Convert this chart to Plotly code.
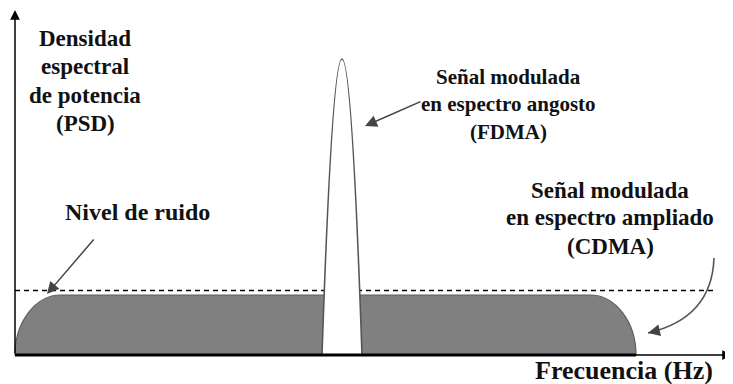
import plotly.graph_objects as go

# Diagram units: origin at the corner of the axes, y grows upward
axis_ends = [717, 345]                 # x-axis tip, y-axis tip
band_edges = [0, 621]                  # spread spectrum band (CDMA)
band_level = 60                        # PSD plateau of the spread signal
band_corner = 46                       # rounding of the band edges
noise_level = 64.5                     # noise floor (dashed)
noise_end = 698
peak_center = 327                      # narrow band signal (FDMA)
peak_halfwidth = 20
peak_height = 296

psd_label = ["Densidad", "espectral", "de potencia", "(PSD)"]
psd_label_y = [317, 289, 260, 232]
fdma_label = ["Señal modulada", "en espectro angosto", "(FDMA)"]
fdma_label_y = [278, 251, 223]
cdma_label = ["Señal modulada", "en espectro ampliado", "(CDMA)"]
cdma_label_y = [165, 137.5, 109]

SERIF = "Liberation Serif"
FONT = dict(family=SERIF, size=23, color="#111")

fig = go.Figure()
# invisible trace so the axes exist
fig.add_trace(go.Scatter(x=[0], y=[0], mode="markers", marker=dict(opacity=0),
                         hoverinfo="skip", showlegend=False))

k = 0.5523
x0, x1 = band_edges
r, h = band_corner, band_level
band_path = (f"M {x0},0 C {x0},{k*h} {x0 + r - k*r},{h} {x0 + r},{h} "
             f"L {x1 - r},{h} C {x1 - r + k*r},{h} {x1},{k*h} {x1},0 Z")
pc, pw, ph = peak_center, peak_halfwidth, peak_height
peak_path = f"M {pc - pw},0 Q {pc},{2*ph} {pc + pw},0 Z"

shapes = [
    dict(type="line", x0=0, x1=noise_end, y0=noise_level, y1=noise_level,
         line=dict(color="black", width=1.3, dash="5px,4px")),
    dict(type="path", path=band_path, fillcolor="#808080",
         line=dict(color="#5e5e5e", width=1.2)),
    dict(type="path", path=peak_path, fillcolor="white",
         line=dict(color="#555", width=1.6)),
    dict(type="line", x0=x0, x1=x1, y0=0, y1=0, line=dict(color="black", width=3)),
    # curved arrow body towards the spread spectrum band
    dict(type="path", path="M 699,97 Q 697,37 633,22",
         line=dict(color="#555", width=1.6)),
]
for s in shapes:
    s.update(xref="x", yref="y")

ann = []
# axes
for tip in [(axis_ends[0], 0), (0, axis_ends[1])]:
    ann.append(dict(x=tip[0], y=tip[1], ax=0, ay=0, axref="x", ayref="y",
                    showarrow=True, arrowhead=2, arrowsize=1.3, arrowwidth=1.5,
                    arrowcolor="black", text=""))
# pointer arrows
for tip, tail in [((32, 61), (80, 117)), ((350, 229), (407, 254)),
                  ((633, 22), (645, 24.8))]:
    ann.append(dict(x=tip[0], y=tip[1], ax=tail[0], ay=tail[1], axref="x", ayref="y",
                    showarrow=True, arrowhead=2, arrowsize=1.6, arrowwidth=1.5,
                    arrowcolor="#444", text=""))

def label(text, x, y, size=23):
    ann.append(dict(x=x, y=y, text=f"<b>{text}</b>", showarrow=False,
                    xanchor="center", yanchor="middle", font={**FONT, "size": size}))

for t, y in zip(psd_label, psd_label_y):
    label(t, 70, y)
for t, y in zip(fdma_label, fdma_label_y):
    label(t, 493, y, size=21)
for t, y in zip(cdma_label, cdma_label_y):
    label(t, 595, y)
label("Nivel de ruido", 122, 143, size=24)
label("Frecuencia (Hz)", 609, -15, size=26)

# the page body adds an 8px margin, so the figure is 8px smaller and its
# ranges start 8px later to keep the drawing where the window expects it
fig.update_layout(
    width=725, height=376, margin=dict(l=0, r=0, t=0, b=0),
    paper_bgcolor="white", plot_bgcolor="white",
    xaxis=dict(range=[-7, 718], visible=False, fixedrange=True),
    yaxis=dict(range=[-29, 347], visible=False, fixedrange=True),
    shapes=shapes, annotations=ann, showlegend=False,
)

fig.write_html("out.html")
